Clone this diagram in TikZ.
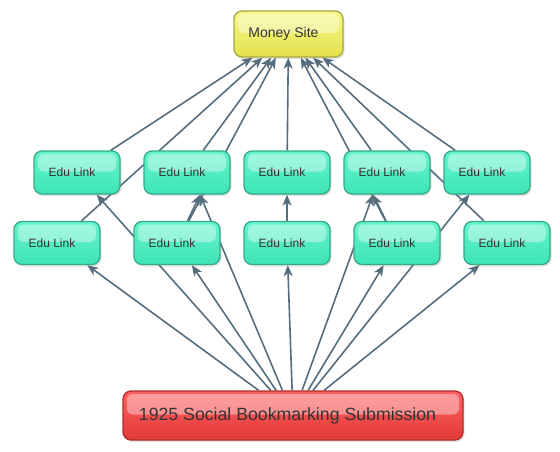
\documentclass[tikz,border=0pt]{standalone}
\usepackage{fontspec}
\setmainfont{Liberation Sans}
\usetikzlibrary{arrows.meta,shadows,backgrounds,calc}
\definecolor{edgecol}{HTML}{566D7E}
\definecolor{txt}{HTML}{333333}
\definecolor{eduTop}{HTML}{66F4CE}
\definecolor{eduBot}{HTML}{3DE4B6}
\definecolor{eduBrd}{HTML}{33AA88}
\definecolor{ylwTop}{HTML}{F8F88A}
\definecolor{ylwBot}{HTML}{E2E24C}
\definecolor{ylwBrd}{HTML}{A8A83C}
\definecolor{redTop}{HTML}{FF6262}
\definecolor{redBot}{HTML}{E23838}
\definecolor{redBrd}{HTML}{B02C2C}
\tikzset{
  boxbase/.style={rounded corners=8pt, line width=1.3pt, text=txt,
    drop shadow={opacity=0.22, shadow xshift=1.5pt, shadow yshift=-2pt},
    path picture={\fill[white, opacity=0.38, rounded corners=6pt]
      ($(path picture bounding box.north west)+(4,-3)$) rectangle
      ($(path picture bounding box.east)+(-4,1)$);}},
  edu/.style={boxbase, draw=eduBrd, top color=eduTop, bottom color=eduBot,
    minimum width=86pt, minimum height=43pt, font=\fontsize{12}{14}\selectfont},
  money/.style={boxbase, draw=ylwBrd, top color=ylwTop, bottom color=ylwBot,
    minimum width=109pt, minimum height=46pt, font=\fontsize{14}{16}\selectfont},
  source/.style={boxbase, draw=redBrd, top color=redTop, bottom color=redBot,
    minimum width=340pt, minimum height=49pt, font=\fontsize{17.7}{20}\selectfont},
  link/.style={draw=edgecol, line width=1.6pt,
    -{Stealth[length=11pt, width=9pt, inset=3pt]}}
}
\begin{document}
\begin{tikzpicture}[x=1pt, y=1pt]
\useasboundingbox (0,0) rectangle (560,451);
\node[money] (money) at (288.5,417) {Money Site\kern10pt};
\node[edu] (a1) at (77,278.5) {Edu Link\kern10pt};
\node[edu] (a2) at (187,278.5) {Edu Link\kern10pt};
\node[edu] (a3) at (287,278.5) {Edu Link\kern10pt};
\node[edu] (a4) at (387,278.5) {Edu Link\kern10pt};
\node[edu] (a5) at (487,278.5) {Edu Link\kern10pt};
\node[edu] (b1) at (57,208) {Edu Link\kern10pt};
\node[edu] (b2) at (177,208) {Edu Link\kern10pt};
\node[edu] (b3) at (287,208) {Edu Link\kern10pt};
\node[edu] (b4) at (397,208) {Edu Link\kern10pt};
\node[edu] (b5) at (507,208) {Edu Link\kern10pt};
\node[source] (src) at (293,35.5) {1925 Social Bookmarking Submission\kern11pt};
\coordinate (t2) at ([xshift=13pt]a2.south);
\coordinate (t4) at ([xshift=-14pt]a4.south);
\begin{pgfonlayer}{background}
  % to money site
  \foreach \n in {a1,b1,a2,b2,a3,a4,b4,a5,b5}
    \draw[link] (\n) -- (money);
  % row 2 to row 1
  \draw[link] (b2) -- (t2);
  \draw[link] (b3) -- (a3);
  \draw[link] (b4) -- (t4);
  % source to links
  \foreach \n in {b1,b2,b3,b4,b5,a1,a5}
    \draw[link] (src) -- (\n);
  \draw[link] (src) -- (t2);
  \draw[link] (src) -- (t4);
\end{pgfonlayer}
\end{tikzpicture}
\end{document}
